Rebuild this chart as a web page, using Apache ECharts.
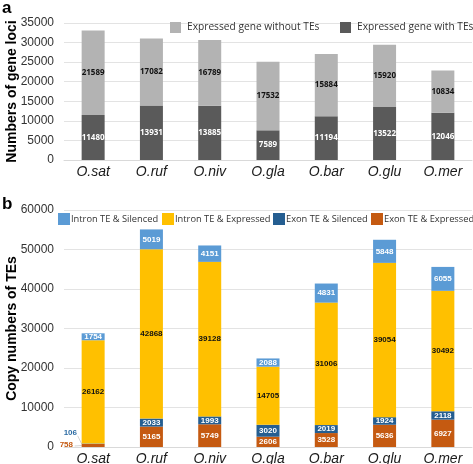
<!DOCTYPE html>
<html><head><meta charset="utf-8">
<script src="https://cdn.jsdelivr.net/npm/echarts@6/dist/echarts.min.js"></script>
<style>html,body{margin:0;padding:0;background:#fff}#c{width:473px;height:464px}</style>
</head><body><div id="c"></div>
<script>
const categories = ['O.sat','O.ruf','O.niv','O.gla','O.bar','O.glu','O.mer'];
// Panel a
const withTEs = [11480, 13931, 13885, 7589, 11194, 13522, 12046];
const withoutTEs = [21589, 17082, 16789, 17532, 15884, 15920, 10834];
const ticksA = [0, 5000, 10000, 15000, 20000, 25000, 30000, 35000];
// Panel b
const exonExpressed = [758, 5165, 5749, 2606, 3528, 5636, 6927];
const exonSilenced = [106, 2033, 1993, 3020, 2019, 1924, 2118];
const intronExpressed = [26162, 42868, 39128, 14705, 31006, 39054, 30492];
const intronSilenced = [1754, 5019, 4151, 2088, 4831, 5848, 6055];
const ticksB = [0, 10000, 20000, 30000, 40000, 50000, 60000];

const chart = echarts.init(document.getElementById('c'), null, {renderer:'canvas'});
const catAxis = (gi) => ({
  type:'category', gridIndex:gi, data:categories,
  axisTick:{show:false},
  axisLine:{show:true, lineStyle:{color:'#d9d9d9'}},
  axisLabel:{fontFamily:'Liberation Sans', fontStyle:'italic', fontSize:14, color:'#1a1a1a', margin:5}
});
const valAxis = (gi, ticks, name) => ({
  type:'value', gridIndex:gi, min:ticks[0], max:ticks[ticks.length-1], interval:ticks[1]-ticks[0],
  name:name, nameLocation:'middle', nameGap:45, nameMoveOverlap:false,
  nameTextStyle:{fontFamily:'Liberation Sans', fontWeight:'bold', fontSize:14, color:'#000'},
  axisLine:{show:false}, axisTick:{show:false},
  axisLabel:{fontFamily:'Liberation Sans', fontSize:12, color:'#333', margin:10, formatter:(v)=>String(v)},
  splitLine:{lineStyle:{color:'#e3e3e3'}}
});
const lbl = (color, font) => ({show:true, position:'inside', color:color, fontSize:8, fontWeight:'bold', fontFamily:font||'Liberation Sans'});
const legB = (name, left) => ({data:[name], orient:'horizontal', left:left, top:213, icon:'rect', itemWidth:12, itemHeight:12,
  padding:0, textStyle:{fontFamily:'Open Sans', fontSize:9.3, color:'#333', padding:[0,0,0,-4]}});
const option = {
  animation:false,
  graphic:[
    {type:'text', left:2, top:0, style:{text:'a', font:'bold 17px Liberation Sans', fill:'#000'}},
    {type:'text', left:2, top:196, style:{text:'b', font:'bold 17px Liberation Sans', fill:'#000'}}
  ],
  legend:[
    {data:['Expressed gene without TEs'], orient:'horizontal', left:170, top:22, icon:'rect', itemWidth:11, itemHeight:11, padding:0,
     textStyle:{fontFamily:'Open Sans', fontSize:10.2, color:'#333', padding:[0,0,0,1]}},
    {data:['Expressed gene with TEs'], orient:'horizontal', left:340, top:22, icon:'rect', itemWidth:11, itemHeight:11, padding:0,
     textStyle:{fontFamily:'Open Sans', fontSize:10.2, color:'#333', padding:[0,0,0,1]}},
    legB('Intron TE & Silenced', 58),
    legB('Intron TE & Expressed', 162),
    legB('Exon TE & Silenced', 273),
    legB('Exon TE & Expressed', 371)
  ],
  grid:[
    {left:64, right:1, top:23, height:137, outerBoundsMode:'none', containLabel:false},
    {left:64, right:1, top:210, height:237, outerBoundsMode:'none', containLabel:false}
  ],
  xAxis:[catAxis(0), catAxis(1)],
  yAxis:[valAxis(0, ticksA, 'Numbers of gene loci'), valAxis(1, ticksB, 'Copy numbers of TEs')],
  series:[
    {name:'Expressed gene with TEs', type:'bar', stack:'a', xAxisIndex:0, yAxisIndex:0, barWidth:23, data:withTEs,
     itemStyle:{color:'#5a5a5a'}, label:lbl('#fff','Open Sans')},
    {name:'Expressed gene without TEs', type:'bar', stack:'a', xAxisIndex:0, yAxisIndex:0, barWidth:23, data:withoutTEs,
     itemStyle:{color:'#b3b3b3'}, label:lbl('#111','Open Sans')},
    {name:'Exon TE & Expressed', type:'bar', stack:'b', xAxisIndex:1, yAxisIndex:1, barWidth:23,
     data:exonExpressed.map((v,i)=> i===0 ? {value:v, label:{position:[-22,-3], color:'#c55a11', fontWeight:'bold', fontSize:8}} : v),
     itemStyle:{color:'#c55a11'}, label:lbl('#fff')},
    {name:'Exon TE & Silenced', type:'bar', stack:'b', xAxisIndex:1, yAxisIndex:1, barWidth:23,
     data:exonSilenced.map((v,i)=> i===0 ? {value:v, label:{position:[-18,-15], color:'#2e6da4', fontWeight:'bold', fontSize:8}} : v),
     itemStyle:{color:'#255e91'}, label:lbl('#fff')},
    {name:'Intron TE & Expressed', type:'bar', stack:'b', xAxisIndex:1, yAxisIndex:1, barWidth:23, data:intronExpressed,
     itemStyle:{color:'#ffc000'}, label:lbl('#111')},
    {name:'Intron TE & Silenced', type:'bar', stack:'b', xAxisIndex:1, yAxisIndex:1, barWidth:23, data:intronSilenced,
     itemStyle:{color:'#5b9bd5'}, label:lbl('#fff')}
  ]
};
chart.setOption(option);
// leader lines for the two tiny O.sat segments, placed through the axis scale
const p0 = chart.convertToPixel({gridIndex:1}, [categories[0], exonExpressed[0]/2]);
const p1 = chart.convertToPixel({gridIndex:1}, [categories[0], exonExpressed[0] + exonSilenced[0]/2]);
const bl = p0[0] - 11.5;
chart.setOption({graphic: option.graphic.concat([
  {type:'line', shape:{x1:bl-7, y1:p0[1]+0.5, x2:bl, y2:p0[1]}, style:{stroke:'#c8c8c8', lineWidth:0.8}},
  {type:'line', shape:{x1:bl-4, y1:p1[1]-8, x2:bl, y2:p1[1]}, style:{stroke:'#c8c8c8', lineWidth:0.8}}
])});
</script></body></html>
